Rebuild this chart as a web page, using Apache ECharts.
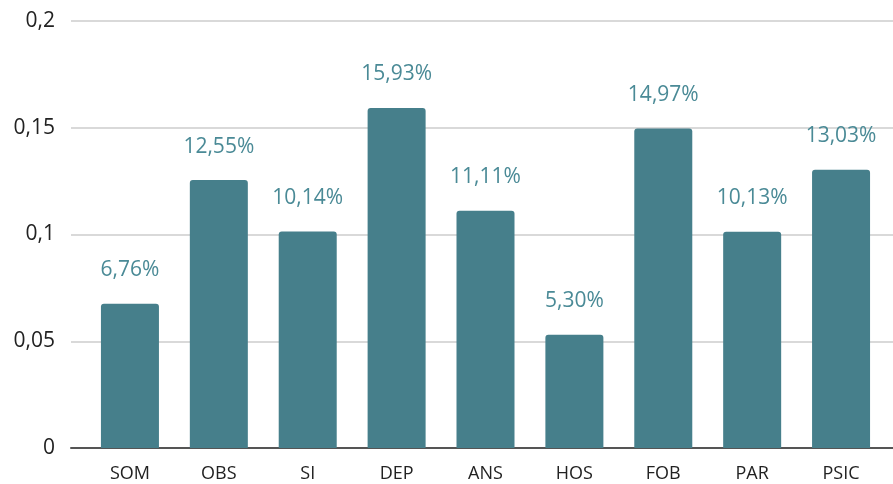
<!DOCTYPE html>
<html>
<head>
<meta charset="utf-8">
<script src="https://cdn.jsdelivr.net/npm/echarts@6/dist/echarts.min.js"></script>
<style>
  html, body { margin: 0; padding: 0; background: #fff; }
  #chart { width: 893px; height: 484px; }
</style>
</head>
<body>
<div id="chart"></div>
<script>
const categories = ["SOM", "OBS", "SI", "DEP", "ANS", "HOS", "FOB", "PAR", "PSIC"];
const shares = [0.0676, 0.1255, 0.1014, 0.1593, 0.1111, 0.0530, 0.1497, 0.1013, 0.1303];
const yTicks = [0, 0.05, 0.1, 0.15, 0.2];

const BAR = "#467f8b";
const LABEL = "#4a8a96";
const FONT = "'Open Sans', 'Noto Sans', sans-serif";

const comma = (v) => String(v).replace(".", ",");

const chart = echarts.init(document.getElementById("chart"), null, { renderer: "canvas" });

chart.setOption({
  animation: false,
  backgroundColor: "#fff",
  grid: [
    // bars
    { left: 85.5, right: 7.5, top: 21, bottom: 36 },
    // full-width gridlines + y labels
    { left: 71, right: 0, top: 21, bottom: 36 },
  ],
  xAxis: [
    {
      type: "category",
      gridIndex: 0,
      data: categories,
      axisLine: { show: false },
      axisTick: { show: false },
      axisLabel: { color: "#222", fontFamily: FONT, fontSize: 18, margin: 17 },
    },
    {
      type: "value",
      gridIndex: 1,
      min: 0,
      max: 1,
      axisLine: { show: true, onZero: false, lineStyle: { color: "#555", width: 2 } },
      axisTick: { show: false },
      axisLabel: { show: false },
      splitLine: { show: false },
    },
  ],
  yAxis: [
    {
      type: "value",
      gridIndex: 0,
      min: 0,
      max: 0.2,
      interval: 0.05,
      axisLine: { show: false },
      axisTick: { show: false },
      axisLabel: { show: false },
      splitLine: { show: false },
    },
    {
      type: "value",
      gridIndex: 1,
      min: 0,
      max: 0.2,
      interval: 0.05,
      axisLine: { show: false },
      axisTick: { show: false },
      axisLabel: {
        color: "#222",
        fontFamily: FONT,
        fontSize: 21,
        margin: 16,
        formatter: (v) => (yTicks.includes(+v.toFixed(2)) ? comma(+v.toFixed(2)) : ""),
      },
      splitLine: { lineStyle: { color: "#d9d9d9", width: 2 } },
    },
  ],
  series: [
    {
      type: "bar",
      xAxisIndex: 0,
      yAxisIndex: 0,
      data: shares,
      barWidth: 58,
      z: 3,
      itemStyle: { color: BAR, borderRadius: [3, 3, 0, 0] },
      label: {
        show: true,
        position: "top",
        distance: 23,
        color: LABEL,
        fontFamily: FONT,
        fontSize: 21,
        formatter: (p) => (p.value * 100).toFixed(2).replace(".", ",") + "%",
      },
    },
  ],
});
</script>
</body>
</html>
